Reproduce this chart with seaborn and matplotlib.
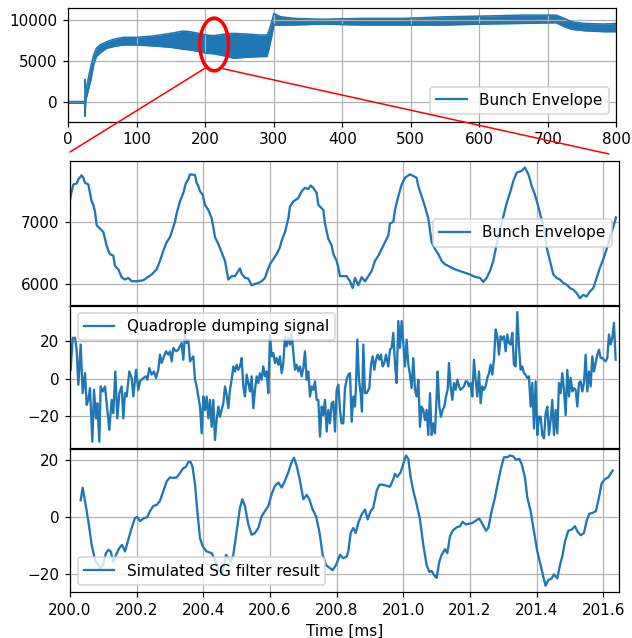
import numpy as np
import pandas as pd
import matplotlib
matplotlib.use("Agg")
import matplotlib.pyplot as plt
import seaborn as sns
from matplotlib.patches import Ellipse, ConnectionPatch

# ---------------- data: overview (0-800 ms), envelope band ----------------
t_top = [0, 10, 20, 24, 24.5, 25, 26, 27, 30, 33, 37, 41, 46, 56, 66, 80, 100, 124,
         149, 168, 178, 190, 202, 212, 225, 241, 261, 280, 290, 293, 297, 300, 310,
         330, 370, 430, 490, 550, 606, 665, 712, 724, 735, 753, 782, 800]
top_hi = [100, 100, 100, 100, 2800, 2000, 1500, 1900, 3300, 4400, 5760, 6570, 6970,
          7370, 7660, 7900, 7900, 8060, 8380, 8660, 8580, 8380, 8180, 8100, 8250, 8380,
          8300, 8180, 8180, 8700, 9800, 10800, 10400, 10200, 10100, 10200, 10200, 10400,
          10480, 10600, 10600, 10200, 9790, 9590, 9510, 9590]
top_lo = [-100, -100, -100, -100, -1700, -600, 500, 700, 1800, 2700, 4550, 5560, 5960,
          6570, 6770, 6970, 6970, 6850, 6690, 6450, 6370, 6170, 5960, 5900, 5700, 5360,
          5480, 5560, 5560, 6500, 8000, 9390, 9390, 9390, 9510, 9390, 9390, 9390, 9510,
          9590, 9670, 9190, 8870, 8700, 8580, 8580]

# ---------------- data: zoom 200-201.65 ms, bunch envelope (t, value) ----------------
env_points = [
    (200.000, 7355), (200.005, 7492), (200.010, 7601), (200.020, 7617), (200.025, 7683),
    (200.035, 7749), (200.040, 7710), (200.045, 7628), (200.055, 7601), (200.060, 7464),
    (200.065, 7328), (200.070, 7273), (200.075, 7164), (200.080, 6945), (200.090, 6891),
    (200.100, 6836), (200.105, 6727), (200.110, 6617), (200.115, 6536), (200.120, 6481),
    (200.130, 6454), (200.135, 6290), (200.145, 6235), (200.155, 6109), (200.165, 6071),
    (200.175, 6098), (200.185, 6044), (200.200, 6044), (200.220, 6060), (200.230, 6098),
    (200.245, 6153), (200.260, 6235), (200.270, 6372), (200.280, 6536), (200.290, 6672),
    (200.300, 6754), (200.310, 6918), (200.315, 7000), (200.320, 7137), (200.330, 7328),
    (200.340, 7464), (200.348, 7628), (200.355, 7683), (200.360, 7765), (200.375, 7754),
    (200.380, 7628), (200.385, 7574), (200.390, 7492), (200.398, 7437), (200.405, 7273),
    (200.415, 7191), (200.425, 7055), (200.430, 6918), (200.435, 6754), (200.445, 6645),
    (200.455, 6508), (200.465, 6372), (200.475, 6071), (200.485, 6126), (200.495, 6126),
    (200.505, 6208), (200.510, 6251), (200.515, 6164), (200.525, 6098), (200.535, 6087),
    (200.545, 5978), (200.555, 6000), (200.565, 6016), (200.575, 6044), (200.585, 6098),
    (200.592, 6208), (200.600, 6317), (200.610, 6399), (200.620, 6481), (200.630, 6590),
    (200.635, 6699), (200.645, 6836), (200.655, 7055), (200.660, 7246), (200.670, 7328),
    (200.685, 7383), (200.695, 7492), (200.705, 7546), (200.715, 7530), (200.722, 7585),
    (200.730, 7546), (200.740, 7464), (200.745, 7273), (200.760, 7191), (200.765, 6973),
    (200.775, 6727), (200.785, 6617), (200.790, 6481), (200.800, 6372), (200.805, 6262),
    (200.810, 6126), (200.820, 6126), (200.830, 6126), (200.840, 6044), (200.848, 5934),
    (200.855, 6098), (200.865, 5978), (200.875, 6109), (200.885, 6044), (200.895, 6126),
    (200.905, 6208), (200.915, 6372), (200.925, 6454), (200.935, 6563), (200.945, 6672),
    (200.955, 6781), (200.960, 6973), (200.970, 7000), (200.975, 7191), (200.985, 7410),
    (200.995, 7601), (201.005, 7710), (201.020, 7765), (201.030, 7738), (201.040, 7710),
    (201.045, 7574), (201.055, 7410), (201.065, 7246), (201.075, 7055), (201.080, 6863),
    (201.085, 6672), (201.095, 6563), (201.105, 6481), (201.115, 6372), (201.125, 6317),
    (201.135, 6290), (201.145, 6262), (201.155, 6235), (201.170, 6208), (201.185, 6180),
    (201.200, 6153), (201.210, 6126), (201.220, 6109), (201.230, 6098), (201.240, 6033),
    (201.250, 6098), (201.260, 6208), (201.270, 6372), (201.280, 6645), (201.290, 6863),
    (201.300, 7082), (201.310, 7300), (201.320, 7464), (201.330, 7656), (201.340, 7792),
    (201.355, 7820), (201.365, 7874), (201.375, 7765), (201.380, 7683), (201.385, 7574),
    (201.395, 7437), (201.405, 7246), (201.415, 7027), (201.425, 6809), (201.430, 6590),
    (201.440, 6372), (201.450, 6153), (201.460, 6098), (201.470, 6071), (201.480, 6016),
    (201.490, 5989), (201.500, 5934), (201.510, 5907), (201.520, 5853), (201.530, 5770),
    (201.540, 5825), (201.550, 5798), (201.560, 5880), (201.570, 5934), (201.580, 6098),
    (201.590, 6262), (201.600, 6399), (201.610, 6563), (201.620, 6754), (201.630, 6918),
    (201.638, 7071),
]

# ---------------- data: quadrupole damping signal (t, value) ----------------
quad_points = [
    (200.002, 4.8), (200.008, 21.9), (200.015, 21.9), (200.020, 15.6), (200.025, -3.2),
    (200.032, 18.3), (200.038, -7.7), (200.045, 3.0), (200.050, -14.0), (200.055, -11.3),
    (200.060, -5.0), (200.067, -33.7), (200.072, -5.9), (200.078, -21.2), (200.082, -13.1),
    (200.088, -33.7), (200.092, -4.1), (200.098, -6.8), (200.105, -4.1), (200.112, -16.7),
    (200.118, -27.4), (200.125, -11.3), (200.130, -18.5), (200.136, 3.9), (200.142, -21.2),
    (200.148, -7.7), (200.155, -4.1), (200.160, -21.2), (200.165, -7.7), (200.170, -9.5),
    (200.178, 3.9), (200.185, 0.4), (200.190, -9.5), (200.198, 4.8), (200.205, -5.9),
    (200.210, -1.4), (200.220, 0.4), (200.228, 1.3), (200.232, -0.5), (200.238, 5.7),
    (200.245, 2.2), (200.252, 3.9), (200.258, 0.4), (200.265, 4.8), (200.270, 12.9),
    (200.275, 8.4), (200.280, 11.1), (200.288, 14.7), (200.295, 12.9), (200.300, 14.7),
    (200.305, 9.3), (200.310, 16.5), (200.318, 14.7), (200.325, 15.6), (200.330, 17.4),
    (200.335, 19.2), (200.340, 10.2), (200.345, 23.7), (200.350, 19.2), (200.355, 21.0),
    (200.360, 9.3), (200.370, 12.0), (200.375, -0.5), (200.380, -4.1), (200.385, -9.5),
    (200.390, -14.9), (200.395, -29.2), (200.400, -9.5), (200.405, -16.7), (200.410, -9.5),
    (200.415, -21.2), (200.420, -11.3), (200.425, -25.7), (200.430, -11.3), (200.435, -32.8),
    (200.440, -22.1), (200.445, -14.9), (200.450, -20.3), (200.455, -16.7), (200.460, -13.1),
    (200.465, -4.1), (200.470, -8.6), (200.475, -15.8), (200.480, -5.9), (200.485, -0.5),
    (200.490, 6.6), (200.495, 3.9), (200.500, 7.5), (200.505, 4.8), (200.510, 6.6),
    (200.515, 11.1), (200.520, -4.1), (200.525, -9.5), (200.530, 2.2), (200.535, -2.3),
    (200.540, -6.8), (200.545, 1.3), (200.550, -15.8), (200.555, -5.9), (200.560, 1.3),
    (200.565, -2.3), (200.570, 3.0), (200.575, -0.5), (200.580, 6.6), (200.585, 1.3),
    (200.590, 3.9), (200.595, -7.7), (200.600, 23.7), (200.605, 12.0), (200.610, 13.8),
    (200.615, 8.4), (200.620, 11.1), (200.625, 7.5), (200.630, 12.0), (200.635, 3.0),
    (200.640, 8.4), (200.645, 22.8), (200.650, 17.4), (200.655, 21.9), (200.660, 18.3),
    (200.665, 24.6), (200.670, 13.8), (200.675, 4.8), (200.680, 7.5), (200.685, 3.9),
    (200.690, 6.6), (200.695, 1.3), (200.700, 5.7), (200.705, 14.7), (200.710, -0.5),
    (200.715, 3.9), (200.720, -9.5), (200.725, -4.1), (200.730, -5.9), (200.735, -1.4),
    (200.740, -11.3), (200.745, -11.3), (200.750, -31.0), (200.755, -14.9), (200.760, -19.4),
    (200.765, -11.3), (200.770, -28.3), (200.775, -16.7), (200.780, -23.9), (200.785, -13.1),
    (200.790, -12.2), (200.795, -28.3), (200.800, -5.9), (200.805, -3.2), (200.810, -16.7),
    (200.815, -23.9), (200.820, -23.9), (200.825, -5.0), (200.830, -0.5), (200.835, 2.2),
    (200.840, 3.0), (200.845, -23.0), (200.850, -9.5), (200.855, -14.9), (200.858, -4.1),
    (200.862, 21.0), (200.867, -0.5), (200.872, -7.7), (200.876, -17.6), (200.880, 18.3),
    (200.885, -7.7), (200.890, -7.7), (200.898, -5.0), (200.903, 7.5), (200.908, 12.0),
    (200.913, 4.8), (200.918, 10.2), (200.923, 12.9), (200.928, 10.2), (200.933, 12.9),
    (200.938, 6.6), (200.943, 8.4), (200.948, 12.9), (200.955, 6.6), (200.960, 15.6),
    (200.965, 16.5), (200.970, 24.6), (200.975, 8.4), (200.980, -2.3), (200.985, 30.9),
    (200.990, 16.5), (200.995, 30.9), (201.000, 19.2), (201.005, 6.6), (201.010, 21.0),
    (201.015, 7.5), (201.020, 2.2), (201.025, -5.0), (201.030, 11.1), (201.035, -5.9),
    (201.040, -9.5), (201.045, -0.5), (201.050, -25.7), (201.055, -14.9), (201.060, -16.7),
    (201.065, -22.1), (201.070, -16.7), (201.075, -30.1), (201.080, -7.7), (201.085, -30.1),
    (201.090, -23.9), (201.095, -29.2), (201.100, -9.5), (201.103, 3.9), (201.108, -14.9),
    (201.113, -20.3), (201.118, -16.7), (201.123, -14.9), (201.128, -9.5), (201.133, -5.9),
    (201.137, 8.4), (201.142, -4.1), (201.147, -11.3), (201.152, -2.3), (201.157, -5.9),
    (201.162, -0.5), (201.167, -4.1), (201.172, -5.9), (201.177, -5.0), (201.182, -4.1),
    (201.187, -1.4), (201.192, -1.4), (201.197, -4.1), (201.202, -2.3), (201.207, -9.5),
    (201.212, 10.2), (201.217, -0.5), (201.222, -9.5), (201.227, 3.9), (201.232, -13.1),
    (201.237, -4.1), (201.242, -5.9), (201.247, -4.1), (201.252, 0.4), (201.257, 3.0),
    (201.262, 7.5), (201.267, 2.2), (201.272, 10.2), (201.277, 26.4), (201.282, 22.8),
    (201.287, 12.9), (201.292, 22.8), (201.297, 21.0), (201.302, 22.8), (201.307, 14.7),
    (201.312, 23.7), (201.317, 19.2), (201.322, 18.3), (201.327, 24.6), (201.332, 7.5),
    (201.337, 6.6), (201.342, 35.7), (201.347, 17.4), (201.352, 4.8), (201.357, 6.6),
    (201.362, 3.0), (201.367, 2.2), (201.372, 0.4), (201.377, 1.3), (201.382, -14.9),
    (201.387, -2.3), (201.392, -26.6), (201.397, -1.4), (201.402, -30.1), (201.407, -20.3),
    (201.412, -20.3), (201.417, -30.1), (201.422, -31.9), (201.427, -18.5), (201.432, -14.9),
    (201.437, -30.1), (201.442, -22.1), (201.447, -11.3), (201.452, -30.1), (201.457, -16.7),
    (201.462, -29.2), (201.467, -2.3), (201.472, -7.7), (201.477, 3.0), (201.482, -5.9),
    (201.487, -19.4), (201.492, 4.8), (201.497, -9.5), (201.502, 0.4), (201.507, -6.8),
    (201.512, -5.0), (201.517, -5.9), (201.522, -14.9), (201.527, -2.3), (201.532, -1.4),
    (201.537, -6.8), (201.542, -2.3), (201.547, 12.9), (201.552, -6.8), (201.557, 3.9),
    (201.562, -4.1), (201.567, 12.0), (201.572, 3.9), (201.577, 8.4), (201.582, 12.9),
    (201.587, 15.6), (201.592, 11.1), (201.597, 11.1), (201.602, 10.2), (201.607, 9.3),
    (201.612, 11.1), (201.617, 23.7), (201.622, 18.3), (201.627, 21.9), (201.632, 30.0),
    (201.637, 10.2),
]

# ---------------- data: simulated SG filter result (t, value) ----------------
sg_points = [
    (200.032, 5.8), (200.038, 10.3), (200.045, 5.6), (200.055, -1.5), (200.065, -9.9),
    (200.075, -15.2), (200.085, -17.0), (200.092, -18.2), (200.100, -16.4), (200.108, -12.8),
    (200.115, -11.6), (200.122, -12.2), (200.130, -15.8), (200.138, -13.4), (200.148, -11.0),
    (200.156, -9.9), (200.165, -12.2), (200.175, -8.1), (200.185, -3.9), (200.195, -0.4),
    (200.202, -0.1), (200.210, -1.5), (200.220, -0.6), (200.232, -0.1), (200.240, 2.0),
    (200.250, 3.8), (200.260, 4.2), (200.270, 5.6), (200.280, 9.1), (200.290, 12.5),
    (200.300, 13.9), (200.310, 13.7), (200.320, 13.9), (200.330, 15.4), (200.338, 16.9),
    (200.348, 17.7), (200.355, 19.3), (200.362, 19.3), (200.368, 17.4), (200.375, 11.5),
    (200.382, 2.0), (200.390, -7.5), (200.398, -10.4), (200.410, -12.2), (200.425, -12.8),
    (200.435, -15.2), (200.445, -18.8), (200.455, -20.6), (200.462, -17.0), (200.468, -13.4),
    (200.475, -14.6), (200.482, -15.8), (200.490, -13.4), (200.500, -5.1), (200.510, 3.2),
    (200.517, 6.2), (200.525, 3.8), (200.535, -2.7), (200.545, -6.3), (200.555, -5.7),
    (200.565, -3.9), (200.575, 0.2), (200.585, 2.0), (200.595, 3.8), (200.605, 8.0),
    (200.615, 10.9), (200.625, 12.1), (200.635, 10.3), (200.645, 12.7), (200.655, 15.7),
    (200.665, 19.3), (200.672, 20.8), (200.680, 18.0), (200.690, 12.7), (200.700, 6.2),
    (200.710, 7.7), (200.718, 6.2), (200.728, 2.6), (200.738, 0.2), (200.748, -5.1),
    (200.758, -13.4), (200.768, -17.0), (200.778, -17.9), (200.788, -18.8), (200.798, -17.0),
    (200.810, -13.4), (200.820, -14.6), (200.830, -14.0), (200.835, -12.2), (200.842, -5.7),
    (200.850, -3.9), (200.857, -5.7), (200.865, -2.1), (200.875, 0.8), (200.885, 2.6),
    (200.893, -0.9), (200.902, 2.0), (200.910, 3.2), (200.920, 9.1), (200.928, 11.3),
    (200.940, 11.3), (200.950, 10.9), (200.960, 10.6), (200.970, 13.3), (200.975, 15.1),
    (200.982, 14.1), (200.992, 15.7), (201.000, 18.6), (201.008, 21.6), (201.015, 20.4),
    (201.022, 13.9), (201.030, 9.1), (201.040, 4.4), (201.050, -0.9), (201.060, -9.9),
    (201.070, -17.0), (201.078, -19.4), (201.085, -19.1), (201.092, -20.5), (201.100, -21.5),
    (201.108, -15.8), (201.115, -13.4), (201.125, -11.4), (201.132, -12.8), (201.140, -6.9),
    (201.148, -4.9), (201.160, -3.7), (201.170, -3.3), (201.178, -1.8), (201.188, -2.7),
    (201.198, -2.4), (201.208, -2.1), (201.218, -1.3), (201.228, -0.6), (201.238, -2.7),
    (201.248, -4.9), (201.255, -3.9), (201.265, 2.0), (201.275, 6.8), (201.285, 12.7),
    (201.295, 18.0), (201.302, 21.0), (201.312, 21.0), (201.320, 21.6), (201.330, 21.3),
    (201.338, 20.1), (201.348, 20.4), (201.355, 18.6), (201.365, 13.9), (201.372, 6.8),
    (201.382, 2.0), (201.392, -5.1), (201.402, -12.2), (201.412, -17.0), (201.420, -21.1),
    (201.427, -24.3), (201.435, -22.3), (201.445, -21.7), (201.452, -20.3), (201.462, -21.7),
    (201.470, -17.0), (201.478, -13.4), (201.485, -8.7), (201.495, -4.9), (201.505, -4.5),
    (201.515, -3.3), (201.522, -5.1), (201.532, -6.5), (201.542, -5.7), (201.550, -1.5),
    (201.558, 1.1), (201.568, 1.4), (201.578, 2.0), (201.588, 7.4), (201.595, 11.8),
    (201.605, 13.3), (201.615, 13.9), (201.628, 16.3),
]

env_t, env_v = map(list, zip(*env_points))
quad_t, quad_v = map(list, zip(*quad_points))
sg_t, sg_v = map(list, zip(*sg_points))

top_ticks = [0, 100, 200, 300, 400, 500, 600, 700, 800]
zoom_ticks = [200.0, 200.2, 200.4, 200.6, 200.8, 201.0, 201.2, 201.4, 201.6]

# ---------------- figure ----------------
W, H = 632, 638
DPI = 110
fig = plt.figure(figsize=(W / DPI, H / DPI), dpi=DPI)
C0 = "#1f77b4"


def px_axes(left, top, right, bottom):
    return [left / W, 1 - bottom / H, (right - left) / W, (bottom - top) / H]


ax0 = fig.add_axes(px_axes(68.3, 8.3, 616.3, 121.5))
ax1 = fig.add_axes(px_axes(70, 161.0, 619.3, 304.8))
ax2 = fig.add_axes(px_axes(70, 305.6, 619.3, 448.2), sharex=ax1)
ax3 = fig.add_axes(px_axes(70, 449.0, 619.3, 592.3), sharex=ax1)

# overview
ax0.fill_between(t_top, top_lo, top_hi, color=C0, lw=0)
sns.lineplot(x=t_top, y=top_hi, ax=ax0, color=C0, lw=1.0, estimator=None,
             label="Bunch Envelope")
sns.lineplot(x=t_top, y=top_lo, ax=ax0, color=C0, lw=1.0, estimator=None)
ax0.set_xlim(0, 800)
ax0.set_xticks(top_ticks)
ax0.grid(True)
leg0 = ax0.legend(loc="lower right")
for h in leg0.legend_handles:
    h.set_linewidth(1.5)

ax0.add_patch(Ellipse((213, 7030), width=42, height=6400, fill=False,
                      edgecolor="red", lw=2.3, zorder=5))
for (xa, ya), (xpx, ypx) in [((200, 4165), (70, 152)), ((226, 4080), (609, 154))]:
    con = ConnectionPatch(xyA=(xa, ya), coordsA=ax0.transData,
                          xyB=(xpx / W, 1 - ypx / H), coordsB=fig.transFigure,
                          color="red", lw=1.0)
    fig.add_artist(con)

# zoomed panels
sns.lineplot(x=env_t, y=env_v, ax=ax1, color=C0, estimator=None, label="Bunch Envelope")
sns.lineplot(x=quad_t, y=quad_v, ax=ax2, color=C0, estimator=None,
             label="Quadrople dumping signal")
sns.lineplot(x=sg_t, y=sg_v, ax=ax3, color=C0, estimator=None,
             label="Simulated SG filter result")

ax1.legend(loc="center right")
ax2.legend(loc="upper left")
ax3.legend(loc="lower left")

ax1.set_yticks([6000, 7000])
ax2.set_yticks([-20, 0, 20])
ax3.set_yticks([-20, 0, 20])

for ax in (ax1, ax2, ax3):
    ax.grid(True)
    ax.set_ylabel("")
ax3.set_xlim(200.0, 201.648)
ax3.set_xticks(zoom_ticks)
ax3.set_xticklabels([f"{v:.1f}" for v in zoom_ticks])
ax1.tick_params(labelbottom=False)
ax2.tick_params(labelbottom=False)
ax3.set_xlabel("Time [ms]")
ax0.set_xlabel("")
ax0.set_ylabel("")

fig.savefig("out.png", dpi=DPI)
